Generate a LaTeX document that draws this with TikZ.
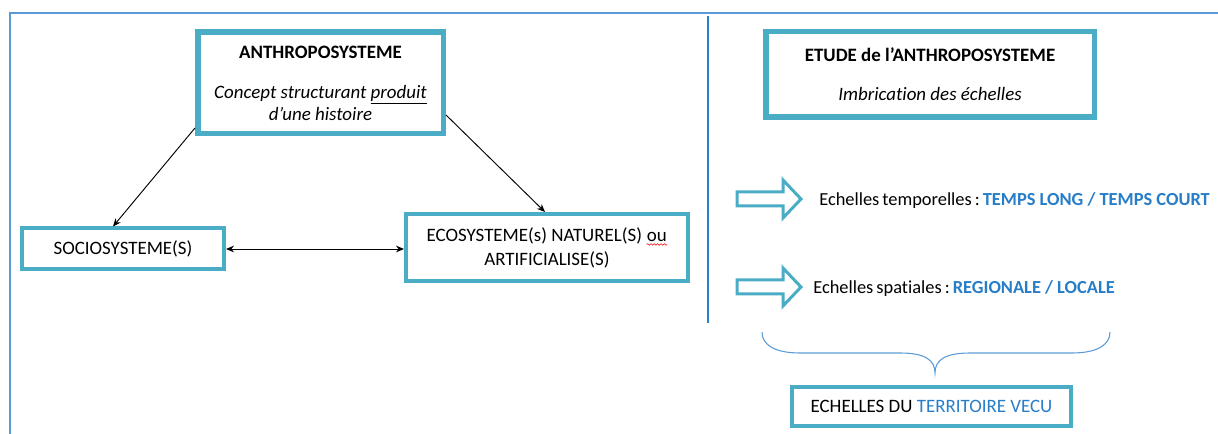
\documentclass[tikz,border=0pt]{standalone}
\usepackage{fontspec}
\setmainfont{Carlito}[Ligatures={TeX,NoCommon}]
\usepackage{xcolor}
\usetikzlibrary{positioning,arrows.meta,decorations.pathmorphing}

\definecolor{boxteal}{RGB}{75,172,198}
\definecolor{frameblue}{RGB}{91,155,213}
\definecolor{sepblue}{RGB}{38,128,212}
\definecolor{textblue}{RGB}{40,125,200}

\newcommand{\spellmark}[1]{\tikz[baseline=(w.base),x=1pt,y=1pt]{\node[draw=none,inner sep=0pt,minimum width=0pt,minimum height=0pt] (w) {#1};
  \draw[red,line width=0.4pt,decorate,decoration={snake,amplitude=0.6pt,segment length=2.5pt}] ([yshift=-2.5pt]w.base west) -- ([yshift=-2.5pt]w.base east);}}

\tikzset{
  plainbox/.style={draw=boxteal,line width=3pt,align=center,inner sep=0pt},
  titlebox/.style={plainbox,line width=3.75pt},
  scaletext/.style={anchor=west,inner sep=0pt,font=\fontsize{13.8}{16.5}\selectfont},
  fatarrow/.pic={\draw[boxteal,line width=2.25pt] (0,-7) -- (46,-7) -- (46,-19) -- (64,0) -- (46,19) -- (46,7) -- (0,7) -- cycle;}
}

\begin{document}
\begin{tikzpicture}[x=0.75pt,y=-0.75pt,>={Stealth[length=6pt,width=5pt]},font=\fontsize{14.2}{16.5}\selectfont]
  \useasboundingbox (0,0) rectangle (1218,434);
  \draw [frameblue,line width=2pt] (10,434) -- (10,13) -- (1218,13);
  \draw [sepblue,line width=1.8pt] (708,16) -- (708,323);

  % left half
  \node [titlebox,minimum width=184.5pt,minimum height=76.5pt] (anthro) at (320.5,83)
    {\textbf{ANTHROPOSYSTEME}\\[13.5pt]\textit{Concept structurant \underline{produit}}\\\textit{d’une histoire}};
  \draw [boxteal,line width=0.75pt] ([shift={(3.75pt,-3.75pt)}]anthro.north west) rectangle ([shift={(-3.75pt,3.75pt)}]anthro.south east);
  \node [plainbox,minimum width=151.5pt,minimum height=30.75pt] (soc) at (123,249) {SOCIOSYSTEME(S)};
  \node [plainbox,minimum width=211.5pt,minimum height=50.25pt] (eco) at (547,247.5)
    {ECOSYSTEME(s) NATUREL(S) \spellmark{ou}\\[1.5pt]ARTIFICIALISE(S)};
  \draw [->,black,line width=0.7pt] ([yshift=-33.75pt]anthro.west) -- ([xshift=-7.5pt]soc.north);
  \draw [->,black,line width=0.7pt] ([yshift=-24pt]anthro.east) -- ([xshift=-1.5pt]eco.north);
  \draw [<->,black,line width=0.7pt] (soc.east) -- (soc.east -| eco.west);

  % right half
  \node [titlebox,minimum width=246.75pt,minimum height=64.5pt] (etude) at (930,74.5)
    {\textbf{ETUDE de l’ANTHROPOSYSTEME}\\[12.75pt]\textit{Imbrication des échelles}};
  \draw [boxteal,line width=0.75pt] ([shift={(3.75pt,-3.75pt)}]etude.north west) rectangle ([shift={(-3.75pt,3.75pt)}]etude.south east);
  \pic at (737,199) {fatarrow};
  \pic at (737,287) {fatarrow};
  \node [scaletext] (tempo) at (819,201) {Echelles\,temporelles\,:\,\textcolor{textblue}{\textbf{TEMPS LONG / TEMPS COURT}}};
  \node [scaletext] (spatial) at (813,289) {Echelles\,spatiales\,:\,\textcolor{textblue}{\textbf{REGIONALE / LOCALE}}};
  \draw [frameblue,line width=0.8pt] (762,332) .. controls (762,345) and (775,353) .. (800,353) -- (900,353)
    .. controls (925,353) and (935,360) .. (935,373) .. controls (935,360) and (945,353) .. (970,353) -- (1072,353)
    .. controls (1097,353) and (1110,345) .. (1110,332);
  \node [plainbox,minimum width=209.25pt,minimum height=29.25pt] (terr) at (931.5,406.5)
    {ECHELLES DU \textcolor{textblue}{TERRITOIRE VECU}};
\end{tikzpicture}
\end{document}
